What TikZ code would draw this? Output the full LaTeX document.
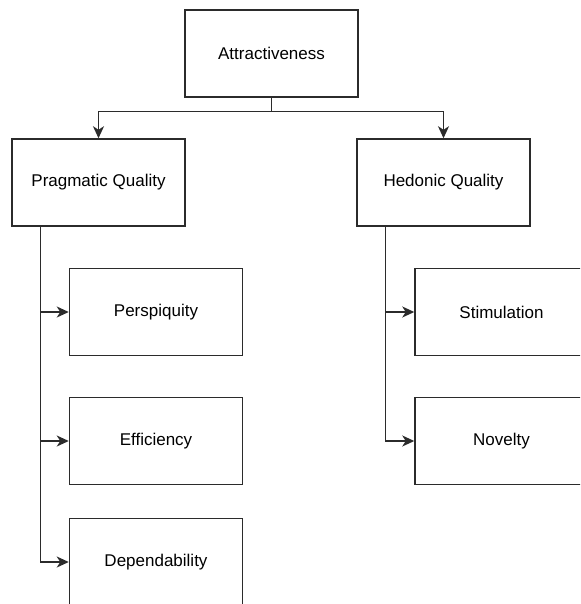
\documentclass[tikz,border=0pt]{standalone}
\usepackage{fontspec}
\setmainfont{Liberation Sans}
\usetikzlibrary{arrows.meta}
\definecolor{linegray}{HTML}{2B2B2B}
\begin{document}
\begin{tikzpicture}[x=1pt,y=-1pt,
  box/.style={draw=linegray, line width=1.5pt, fill=white, minimum width=173pt, minimum height=87pt,
    inner sep=0pt, font=\fontsize{17}{20}\selectfont, text=black},
  conn/.style={draw=linegray, line width=1.5pt, -{Stealth[length=12pt,width=11pt,inset=3.5pt]}},
  plain/.style={draw=linegray, line width=1.5pt}]
\useasboundingbox (0,0) rectangle (580,604);
\clip (0,0) rectangle (580,604);
\node[box] (attr) at (271.5,53.5) {Attractiveness};
\node[box] (prag) at (98.5,182.5) {Pragmatic Quality};
\node[box] (hed) at (443.5,182.5) {Hedonic Quality};
\node[box] (persp) at (156,312) {Perspiquity};
\node[box] (eff) at (156,441) {Efficiency};
\node[box] (dep) at (156,562) {Dependability};
\node[box] (stim) at (501.5,312) {Stimulation};
\node[box] (nov) at (501.5,441) {Novelty};
\coordinate (split) at ([yshift=-14pt]attr.south);
\coordinate (pv) at ([xshift=29pt]prag.south west);
\coordinate (hv) at ([xshift=29pt]hed.south west);
\draw[plain] (attr.south) -- (split);
\draw[conn] (split) -| (prag.north);
\draw[conn] (split) -| (hed.north);
\draw[conn] (pv) |- (persp.west);
\draw[conn] (pv) |- (eff.west);
\draw[conn] (pv) |- (dep.west);
\draw[conn] (hv) |- (stim.west);
\draw[conn] (hv) |- (nov.west);
\end{tikzpicture}
\end{document}
